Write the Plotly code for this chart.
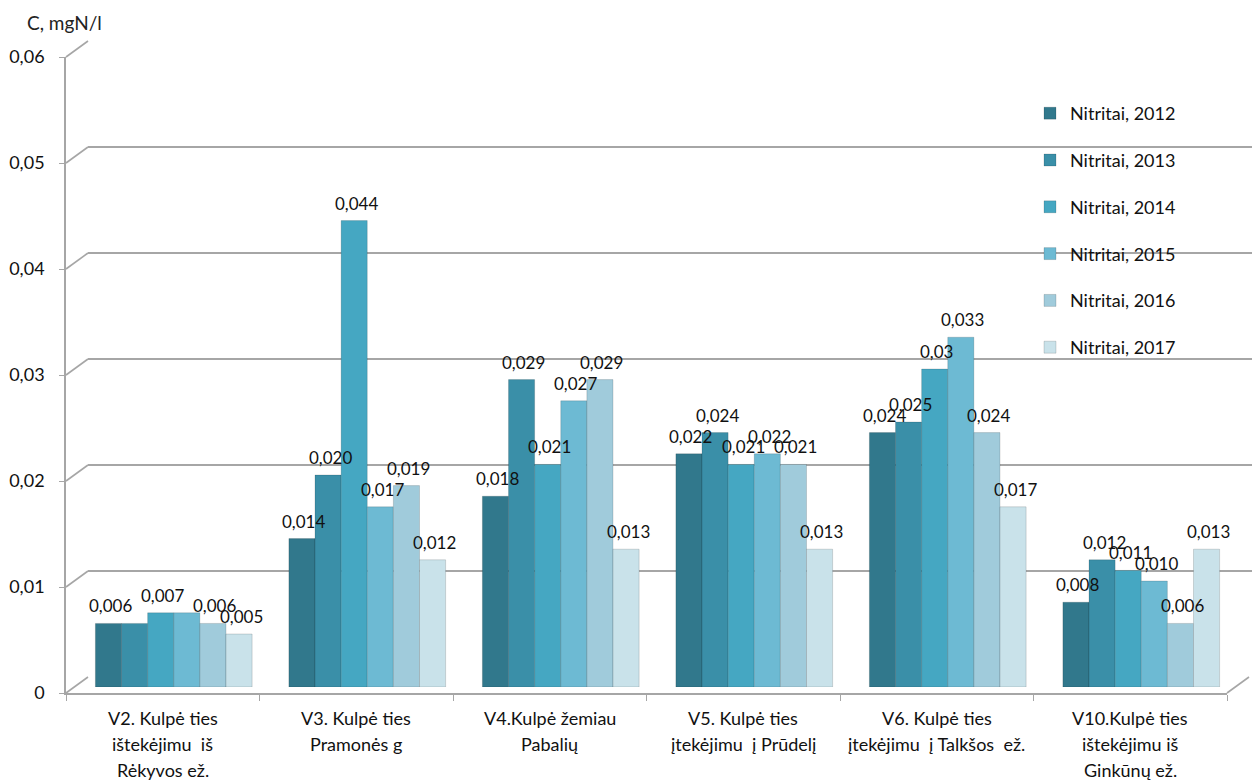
import plotly.graph_objects as go

# ---------------- data ----------------
sites = ["V2", "V3", "V4", "V5", "V6", "V10"]
site_label_lines = [
    ["V2. Kulpė ties", "ištekėjimu  iš", "Rėkyvos ež."],
    ["V3. Kulpė ties", "Pramonės g"],
    ["V4.Kulpė žemiau", "Pabalių"],
    ["V5. Kulpė ties", "įtekėjimu  į Prūdelį"],
    ["V6. Kulpė ties", "įtekėjimu  į Talkšos  ež."],
    ["V10.Kulpė ties", "ištekėjimu iš", "Ginkūnų ež."],
]
series_names = ["Nitritai, 2012", "Nitritai, 2013", "Nitritai, 2014",
                "Nitritai, 2015", "Nitritai, 2016", "Nitritai, 2017"]
v2012 = [0.006, 0.014, 0.018, 0.022, 0.024, 0.008]
v2013 = [0.006, 0.020, 0.029, 0.024, 0.025, 0.012]
v2014 = [0.007, 0.044, 0.021, 0.021, 0.030, 0.011]
v2015 = [0.007, 0.017, 0.027, 0.022, 0.033, 0.010]
v2016 = [0.006, 0.019, 0.029, 0.021, 0.024, 0.006]
v2017 = [0.005, 0.012, 0.013, 0.013, 0.017, 0.013]
l2012 = ["0,006", "0,014", "0,018", "0,022", "0,024", "0,008"]
l2013 = ["", "0,020", "0,029", "0,024", "0,025", "0,012"]
l2014 = ["0,007", "0,044", "0,021", "0,021", "0,03", "0,011"]
l2015 = ["", "0,017", "0,027", "0,022", "0,033", "0,010"]
l2016 = ["0,006", "0,019", "0,029", "0,021", "0,024", "0,006"]
l2017 = ["0,005", "0,012", "0,013", "0,013", "0,017", "0,013"]
y_tickvals = [0, 0.01, 0.02, 0.03, 0.04, 0.05, 0.06]
y_ticktext = ["0", "0,01", "0,02", "0,03", "0,04", "0,05", "0,06"]
y_title = "C, mgN/l"

values = [v2012, v2013, v2014, v2015, v2016, v2017]
labels = [l2012, l2013, l2014, l2015, l2016, l2017]
colors = ["#31788C", "#3A8FA8", "#45A7C2", "#6DBAD3", "#A0CBDB", "#C9E2EA"]

# ---------------- geometry (pixels) ----------------
W, H = 1252, 783
ML, MR, MT, MB = 66, 0, 41, 90
PW, PH = W - ML - MR, H - MT - MB
FRONT_LEFT, FRONT_RIGHT = 66, 1227
DEPTH_X, DEPTH_Y = 22, 16
AXIS_H = 636  # pixels for 0..0.06
BAR_DX, BAR_DY = 11, 6
YMAX = 0.06
BARGAP = 0.19
NS = len(series_names)

def fx(px):
    return (px - ML) / PW

def fy(dy_from_bottom):
    return dy_from_bottom / PH

FONT = "Lato"
TXT = "#111111"
FS = 18

fig = go.Figure()

# back wall grid subplot (drawn first, underneath)
fig.add_trace(go.Scatter(x=[0, 1], y=[None, None], xaxis="x", yaxis="y",
                         showlegend=False, hoverinfo="skip"))
# front axis subplot
fig.add_trace(go.Scatter(x=sites, y=[None] * len(sites), xaxis="x2", yaxis="y2",
                         showlegend=False, hoverinfo="skip"))
# bars
for i, name in enumerate(series_names):
    fig.add_trace(go.Bar(
        x=sites, y=values[i], name=name, xaxis="x3", yaxis="y3",
        marker=dict(color=colors[i], line=dict(color="rgba(0,0,0,0.18)", width=0.8)),
        legendgroup=name,
    ))

layout = dict(
    width=W, height=H,
    margin=dict(l=ML, r=MR, t=MT, b=MB),
    paper_bgcolor="white", plot_bgcolor="rgba(0,0,0,0)",
    barmode="group", bargap=BARGAP, bargroupgap=0.0,
    font=dict(family=FONT, size=FS, color=TXT),
    showlegend=True,
    legend=dict(x=fx(1030), y=fy(693 - 95), xanchor="left", yanchor="top",
                font=dict(family=FONT, size=FS, color=TXT),
                tracegroupgap=20.4, bgcolor="rgba(0,0,0,0)", itemwidth=30),
    # back wall grid
    xaxis=dict(domain=[fx(FRONT_LEFT + DEPTH_X), 1], range=[0, 1], visible=False),
    yaxis=dict(domain=[fy(DEPTH_Y), fy(DEPTH_Y + AXIS_H)], range=[0, YMAX],
               tickvals=y_tickvals, showticklabels=False, ticks="",
               showgrid=True, gridcolor="#A6A6A6", gridwidth=1.6,
               zeroline=False, showline=False),
    # front axes
    xaxis2=dict(domain=[fx(FRONT_LEFT), fx(FRONT_RIGHT)], anchor="y2",
                type="category", range=[-0.5, len(sites) - 0.5],
                showline=True, linecolor="#A6A6A6", linewidth=1.6,
                ticks="outside", tickson="boundaries", ticklen=6,
                tickcolor="#A6A6A6", tickwidth=1.2, showticklabels=False, showgrid=False),
    yaxis2=dict(domain=[0, fy(AXIS_H)], anchor="x2", range=[0, YMAX],
                tickvals=y_tickvals, ticktext=y_ticktext,
                showline=True, linecolor="#A6A6A6", linewidth=1.6,
                ticks="outside", ticklen=5, tickcolor="#A6A6A6", tickwidth=1.2,
                ticklabelstandoff=11,
                showgrid=False, zeroline=False,
                tickfont=dict(family=FONT, size=FS, color=TXT)),
    # bars
    xaxis3=dict(domain=[fx(FRONT_LEFT + BAR_DX), fx(FRONT_RIGHT + BAR_DX)], anchor="y3",
                type="category", range=[-0.5, len(sites) - 0.5], visible=False),
    yaxis3=dict(domain=[fy(BAR_DY), fy(BAR_DY + AXIS_H)], anchor="x3", range=[0, YMAX],
                visible=False),
)
fig.update_layout(**layout)

# diagonal connectors from front axis to back wall gridlines
shapes = []
for v in y_tickvals:
    y0 = fy(v / YMAX * AXIS_H)
    y1 = fy(DEPTH_Y + v / YMAX * AXIS_H)
    shapes.append(dict(type="line", xref="paper", yref="paper",
                       x0=fx(FRONT_LEFT), y0=y0, x1=fx(FRONT_LEFT + DEPTH_X), y1=y1,
                       line=dict(color="#A6A6A6", width=1.6), layer="below"))
shapes.append(dict(type="line", xref="paper", yref="paper",
                   x0=fx(FRONT_RIGHT), y0=0, x1=fx(FRONT_RIGHT + DEPTH_X), y1=fy(DEPTH_Y),
                   line=dict(color="#A6A6A6", width=1.6), layer="below"))
fig.update_layout(shapes=shapes)

annotations = []
# data labels on top of everything
group_px = (FRONT_RIGHT - FRONT_LEFT) / len(sites)
bar_px = group_px * (1 - BARGAP) / NS
for i in range(NS):
    for k, site in enumerate(sites):
        if not labels[i][k]:
            continue
        annotations.append(dict(x=site, xref="x3", y=values[i][k], yref="y3",
                                text=labels[i][k], showarrow=False,
                                xanchor="center", yanchor="bottom",
                                xshift=(i - (NS - 1) / 2) * bar_px + 2, yshift=5,
                                font=dict(family=FONT, size=FS - 1, color=TXT)))
# category labels (multi-line, Excel-like spacing)
for i, lines in enumerate(site_label_lines):
    for j, line in enumerate(lines):
        annotations.append(dict(x=sites[i], xref="x2", y=fy(-25 - 26 * j), yref="paper",
                                text=line, showarrow=False, xanchor="center", yanchor="middle",
                                font=dict(family=FONT, size=FS, color=TXT)))
annotations.append(dict(x=fx(25), y=fy(693 - 22), xref="paper", yref="paper",
                        text=y_title, showarrow=False, xanchor="left", yanchor="middle",
                        font=dict(family=FONT, size=19, color="#222222")))
fig.update_layout(annotations=annotations)

fig.write_html("out.html")
